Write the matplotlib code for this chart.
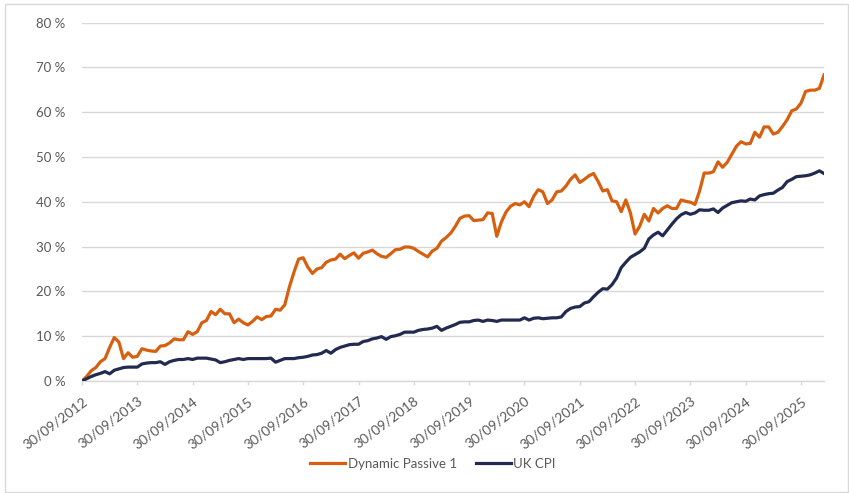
import matplotlib
matplotlib.use("Agg")
import matplotlib.pyplot as plt
from matplotlib.patches import Rectangle
import numpy as np

# Monthly series, month 0 = 30/09/2012
dynamic_passive_1 = [
    0.0, 1.0, 2.3, 3.0, 4.3, 5.0, 7.5, 9.7, 8.7, 5.0,
    6.3, 5.3, 5.5, 7.2, 6.9, 6.7, 6.6, 7.8, 7.9, 8.5,
    9.4, 9.2, 9.2, 11.0, 10.4, 11.0, 13.0, 13.5, 15.5, 14.8,
    16.0, 15.0, 15.0, 13.0, 13.8, 13.0, 12.5, 13.3, 14.3, 13.7,
    14.4, 14.5, 16.0, 15.8, 17.0, 21.0, 24.3, 27.2, 27.5, 25.4,
    24.0, 25.0, 25.3, 26.5, 27.0, 27.2, 28.3, 27.3, 28.0, 28.6,
    27.4, 28.5, 28.8, 29.2, 28.4, 27.8, 27.6, 28.4, 29.3, 29.4,
    29.9, 29.9, 29.6, 28.9, 28.3, 27.7, 29.0, 29.6, 31.2, 32.0,
    33.0, 34.5, 36.3, 36.8, 36.9, 35.8, 35.9, 36.0, 37.5, 37.4,
    32.3, 35.5, 37.7, 39.0, 39.6, 39.3, 40.0, 38.9, 41.2, 42.7,
    42.2, 39.6, 40.4, 42.2, 42.4, 43.5, 45.0, 46.0, 44.3, 45.0,
    45.8, 46.3, 44.5, 42.4, 42.7, 40.2, 40.0, 37.8, 40.4, 37.5,
    32.8, 34.5, 37.2, 35.7, 38.5, 37.5, 38.5, 39.1, 38.5, 38.5,
    40.4, 40.1, 39.9, 39.4, 42.4, 46.4, 46.4, 46.7, 48.9, 47.7,
    48.8, 50.6, 52.4, 53.4, 52.9, 53.0, 55.5, 54.4, 56.7, 56.7,
    55.1, 55.5, 56.8, 58.3, 60.3, 60.7, 62.0, 64.6, 64.9, 64.9,
    65.3, 68.3,
]

uk_cpi = [
    0.0, 0.5, 1.0, 1.4, 1.7, 2.1, 1.6, 2.4, 2.7, 3.0,
    3.1, 3.1, 3.1, 3.8, 4.0, 4.1, 4.1, 4.3, 3.7, 4.3,
    4.6, 4.8, 4.8, 5.0, 4.8, 5.1, 5.1, 5.1, 4.9, 4.7,
    4.1, 4.3, 4.6, 4.8, 5.0, 4.8, 5.0, 5.0, 5.0, 5.0,
    5.0, 5.1, 4.2, 4.6, 5.0, 5.0, 5.0, 5.2, 5.3, 5.5,
    5.8, 5.9, 6.2, 6.8, 6.2, 7.0, 7.5, 7.8, 8.1, 8.2,
    8.2, 8.8, 9.0, 9.4, 9.6, 9.9, 9.3, 9.9, 10.1, 10.4,
    10.9, 10.9, 10.9, 11.3, 11.5, 11.6, 11.8, 12.2, 11.3, 11.8,
    12.2, 12.6, 13.1, 13.2, 13.2, 13.5, 13.6, 13.3, 13.6, 13.5,
    13.3, 13.6, 13.6, 13.6, 13.6, 13.6, 14.1, 13.6, 14.0, 14.1,
    13.9, 14.0, 14.1, 14.1, 14.3, 15.5, 16.2, 16.5, 16.6, 17.4,
    17.7, 18.8, 19.8, 20.6, 20.5, 21.5, 23.0, 25.3, 26.5, 27.6,
    28.2, 28.8, 29.6, 31.7, 32.6, 33.2, 32.4, 33.7, 35.0, 36.2,
    37.1, 37.6, 37.2, 37.5, 38.2, 38.1, 38.1, 38.4, 37.6, 38.6,
    39.2, 39.8, 40.0, 40.2, 40.1, 40.6, 40.4, 41.3, 41.6, 41.8,
    41.9, 42.6, 43.2, 44.5, 45.0, 45.6, 45.7, 45.8, 46.0, 46.4,
    46.9, 46.3,
]

tick_labels = ["30/09/2012", "30/09/2013", "30/09/2014", "30/09/2015",
               "30/09/2016", "30/09/2017", "30/09/2018", "30/09/2019",
               "30/09/2020", "30/09/2021", "30/09/2022", "30/09/2023",
               "30/09/2024", "30/09/2025"]
y_ticks = [0, 10, 20, 30, 40, 50, 60, 70, 80]
series_names = ["Dynamic Passive 1", "UK CPI"]

plt.rcParams['font.family'] = ['Lato', 'DejaVu Sans']
TXT = '#595959'
GRID = '#d9d9d9'

fig = plt.figure(figsize=(8.49, 4.93), dpi=100)
ax = fig.add_axes([82/849, 1-381/493, (824-82)/849, (381-22.5)/493])

months = np.arange(len(dynamic_passive_1))
ax.plot(months, dynamic_passive_1, color='#d6600f', lw=2.3, label=series_names[0],
        solid_joinstyle='round', zorder=3)
ax.plot(months, uk_cpi, color='#222a50', lw=2.3, label=series_names[1],
        solid_joinstyle='round', zorder=3)

ax.set_xlim(0, len(months) - 1)
ax.set_ylim(0, 80)
ax.set_yticks(y_ticks)
ax.set_yticklabels([f"{v} %" for v in y_ticks])
ax.set_xticks(np.arange(len(tick_labels)) * 12)
ax.set_xticklabels(tick_labels, rotation=37, ha='right', va='top',
                   rotation_mode='anchor')

ax.grid(axis='y', color=GRID, lw=1)
ax.set_axisbelow(True)
for s in ['top', 'right', 'left']:
    ax.spines[s].set_visible(False)
ax.spines['bottom'].set_color(GRID)
ax.spines['bottom'].set_linewidth(1)
ax.tick_params(axis='y', length=0, pad=12, labelsize=9.5, labelcolor=TXT)
ax.tick_params(axis='x', length=3, color=GRID, width=1, pad=7, labelsize=10,
               labelcolor=TXT)

fig.legend(loc='center', bbox_to_anchor=(433/849, 1-464/493), ncol=2, frameon=False,
           fontsize=9.5, labelcolor=TXT, handlelength=2.65, handletextpad=0.2,
           columnspacing=1.4)

fig.patches.append(Rectangle((5/849, 1/493), 843/849, 488/493, transform=fig.transFigure,
                             fill=False, edgecolor=GRID, lw=1))

fig.savefig('out.png', dpi=100)
